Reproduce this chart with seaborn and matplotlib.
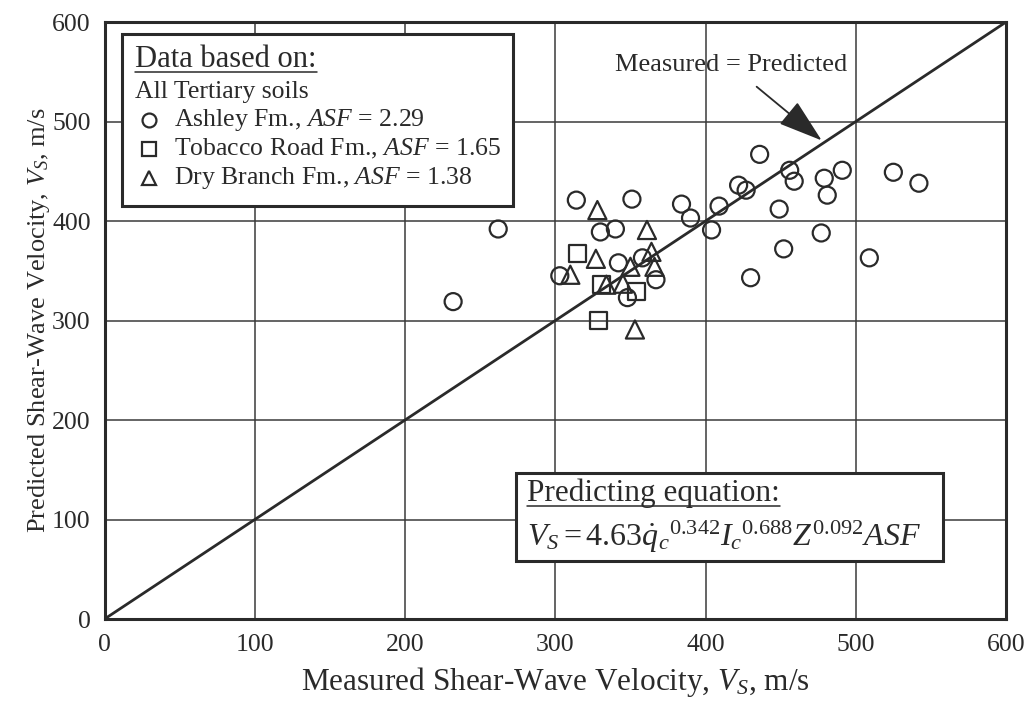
import matplotlib
matplotlib.use("Agg")
import matplotlib.pyplot as plt
import seaborn as sns
from matplotlib.patches import Rectangle
from matplotlib.lines import Line2D

# Measured vs predicted shear-wave velocity (m/s)
ashley_x = [232, 262, 303, 314, 330, 340, 342, 348, 351, 358, 367, 384, 390, 404, 409,
            422, 427, 430, 436, 449, 452, 456, 459, 477, 479, 481, 491, 509, 525, 542]
ashley_y = [319, 392, 345, 421, 389, 392, 358, 323, 422, 363, 341, 417, 403, 391, 415,
            436, 431, 343, 467, 412, 372, 451, 440, 388, 443, 426, 451, 363, 449, 438]

tobacco_x = [315, 331, 354, 329]
tobacco_y = [367, 336, 329, 300]

dry_x = [310, 327, 328, 334, 345, 350, 353, 361, 364, 366]
dry_y = [346, 362, 411, 336, 337, 354, 291, 391, 369, 354]

ticks = [0, 100, 200, 300, 400, 500, 600]

sns.set_theme(style="white")
plt.rcParams["font.family"] = ["Liberation Serif", "DejaVu Serif"]
plt.rcParams["mathtext.fontset"] = "custom"
plt.rcParams["mathtext.rm"] = "Liberation Serif"
plt.rcParams["mathtext.it"] = "Liberation Serif:italic"
plt.rcParams["mathtext.bf"] = "Liberation Serif:bold"

fig = plt.figure(figsize=(10.27, 7.06), dpi=100)
ax = fig.add_axes([0.1018, 0.1232, 0.8778, 0.8456])

ink = "#2a2a2a"

# 1:1 reference line
ax.plot([0, 600], [0, 600], color=ink, lw=2.0, zorder=2)

common = dict(facecolor="none", edgecolor=ink, linewidth=1.6, zorder=3, ax=ax, legend=False)
sns.scatterplot(x=ashley_x, y=ashley_y, marker="o", s=150, **common)
sns.scatterplot(x=tobacco_x, y=tobacco_y, marker="s", s=150, **common)
sns.scatterplot(x=dry_x, y=dry_y, marker="^", s=170, **common)

ax.set_xlim(0, 600)
ax.set_ylim(0, 600)
ax.set_xticks(ticks)
ax.set_yticks(ticks)
ax.set_xticklabels([str(t) for t in ticks])
ax.set_yticklabels([str(t) for t in ticks])
ax.tick_params(axis="both", length=0, labelsize=18.5, colors=ink)
ax.tick_params(axis="x", pad=11)
ax.tick_params(axis="y", pad=10)
ax.grid(True, color="#3a3a3a", lw=1.1)
ax.set_axisbelow(True)
for s in ax.spines.values():
    s.set_color(ink)
    s.set_linewidth(2.2)

ax.set_xlabel("Measured Shear-Wave Velocity, $V_S$, m/s", fontsize=22.5, color=ink, labelpad=6)
ax.set_ylabel("Predicted Shear-Wave Velocity, $V_S$, m/s", fontsize=19, color=ink, labelpad=0)

# annotation for the 1:1 line
ax.text(416.7, 556.8, "Measured = Predicted", fontsize=19, color=ink,
        ha="center", va="center", zorder=6)
ax.annotate("", xy=(477.3, 481), xytext=(434, 535),
            arrowprops=dict(arrowstyle="-|>,head_length=1.4,head_width=0.45",
                            lw=1.3, color=ink, shrinkA=0, shrinkB=0,
                            mutation_scale=20),
            zorder=6)

T = ax.transAxes

# legend box
ax.add_patch(Rectangle((0.019, 0.692), 0.434, 0.288, transform=T,
                       facecolor="white", edgecolor=ink, lw=2.2, zorder=7))
t_head = ax.text(0.0338, 0.937, "Data based on:", transform=T, fontsize=22,
                 color=ink, ha="left", va="center", zorder=8)
ax.text(0.0338, 0.883, "All Tertiary soils", transform=T, fontsize=18.5,
        color=ink, ha="left", va="center", zorder=8)
entries = [
    ("o", 0.836, r"Ashley Fm., $\mathit{ASF}$ = 2.29"),
    ("s", 0.787, r"Tobacco Road Fm., $\mathit{ASF}$ = 1.65"),
    ("^", 0.738, r"Dry Branch Fm., $\mathit{ASF}$ = 1.38"),
]
for mk, yy, label in entries:
    ax.add_line(Line2D([0.0497], [yy], transform=T, marker=mk, markersize=10,
                       markerfacecolor="none", markeredgecolor=ink,
                       markeredgewidth=1.6, zorder=8))
    ax.text(0.0771, yy, label, transform=T, fontsize=18.5, color=ink,
            ha="left", va="center", zorder=8)

# predicting equation box
ax.add_patch(Rectangle((0.456, 0.097), 0.474, 0.148, transform=T,
                       facecolor="white", edgecolor=ink, lw=2.2, zorder=7))
t_eq = ax.text(0.4684, 0.2106, "Predicting equation:", transform=T, fontsize=22.5,
               color=ink, ha="left", va="center", zorder=8)
ax.text(0.4684, 0.138,
        r"$V_S = 4.63\dot{q}_c{}^{0.342}I_c{}^{0.688}Z^{0.092}\mathit{ASF}$",
        transform=T, fontsize=23, color=ink, ha="left", va="center", zorder=8)

# underline the two headings
fig.canvas.draw()
renderer = fig.canvas.get_renderer()
inv = T.inverted()
for t in (t_head, t_eq):
    bb = t.get_window_extent(renderer)
    (x0, y0), (x1, y1) = inv.transform([[bb.x0, bb.y0], [bb.x1, bb.y1]])
    ax.add_line(Line2D([x0, x1], [y0 + 0.004, y0 + 0.004], transform=T,
                       color=ink, lw=1.1, zorder=8))

fig.savefig("out.png", dpi=100, facecolor="white")
